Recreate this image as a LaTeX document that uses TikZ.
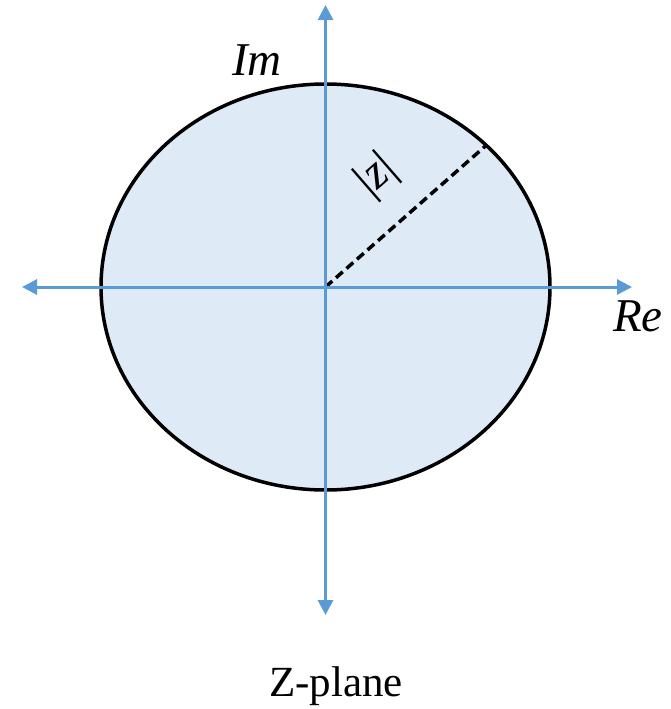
\documentclass[tikz,border=0pt]{standalone}
\usepackage{fontspec}
\setmainfont{Liberation Serif}
\usetikzlibrary{arrows.meta}
\definecolor{axisblue}{HTML}{5B9BD5}
\definecolor{fillblue}{HTML}{DEEBF7}
\begin{document}
\begin{tikzpicture}[x=1pt,y=-1pt,
  axis/.style={axisblue, line width=3pt, {Triangle[length=15pt,width=15pt]}-{Triangle[length=15pt,width=15pt]}},
  circ/.style={draw=black, fill=fillblue, line width=3.5pt},
  radius line/.style={draw=black, line width=3.5pt, dash pattern=on 9pt off 5pt},
  axlabel/.style={font=\fontsize{47}{52}\selectfont\itshape},
  caption/.style={font=\fontsize{43}{48}\selectfont}]
\useasboundingbox (0,0) rectangle (671,709);
\coordinate (O) at (325.5,287);
\draw[circ] (O) ellipse [x radius=224.5, y radius=203];
\coordinate (P) at (486,145.5);
\draw[radius line] (O) -- (P);
\coordinate (L) at (22,287);
\coordinate (R) at (632,287);
\coordinate (T) at (325.5,5);
\coordinate (B) at (325.5,615);
\draw[axis] (L) -- (R);
\draw[axis] (B) -- (T);
\node[axlabel] (im) at (257,60) {Im};
\node[axlabel] (re) at (638,316) {Re};
\node[font=\fontsize{48}{52}\selectfont, rotate=41] (z) at (377,176) {|\textit{z}|};
\node[caption] (cap) at (336,686) {Z-plane};
\end{tikzpicture}
\end{document}
